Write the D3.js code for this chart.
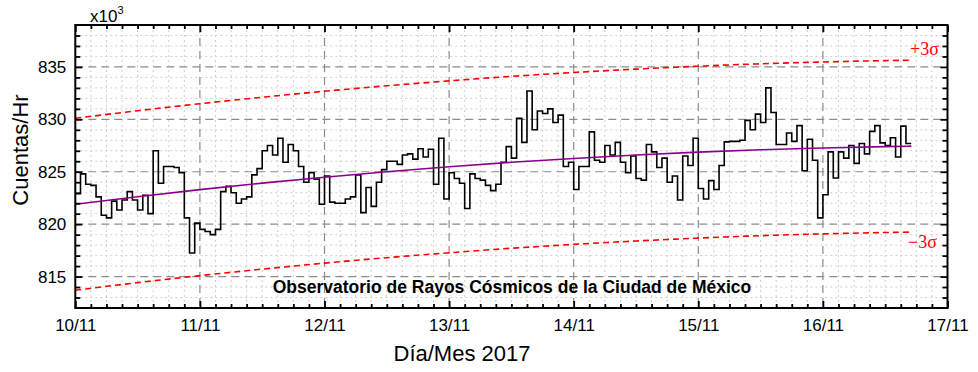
<!DOCTYPE html>
<html><head><meta charset="utf-8">
<script src="https://cdn.jsdelivr.net/npm/d3@7"></script>
<style>
html,body{margin:0;padding:0;background:#fff;}
svg{display:block;font-family:"Liberation Sans",Arial,sans-serif;}
</style></head>
<body>
<svg id="chart" width="978" height="372"></svg>
<script>
// ---- data ----
const dayLabels = ["10/11","11/11","12/11","13/11","14/11","15/11","16/11","17/11"];
const yTickValues = [815, 820, 825, 830, 835];
// hourly counts (x10^3) starting 10/11 00:00
const counts = [
822.9,824.8,823.8,823.7,822.6,820.85,820.6,822.2,821.35,822.3,823.1,822.3,821.35,822.75,821.0,827.0,823.9,825.5,825.5,825.4,824.9,820.6,817.25,820.1,
819.5,819.3,819.0,819.5,823.1,823.6,823.0,822.0,822.4,822.6,824.7,825.3,827.0,827.5,826.6,828.2,825.9,827.6,827.0,825.5,824.0,824.9,824.3,821.9,
824.6,822.1,822.0,822.0,822.4,822.6,824.7,821.1,823.5,821.7,824.0,825.2,826.0,826.0,825.7,826.6,826.7,826.2,827.2,826.4,827.15,823.8,828.2,822.4,
824.9,824.35,823.9,821.5,824.8,824.35,824.2,823.7,823.2,823.8,825.9,827.4,826.3,830.1,827.8,832.7,829.0,830.8,830.55,831.0,829.7,830.4,825.5,825.9,
823.3,825.5,825.5,828.8,826.1,825.9,827.5,826.6,827.8,825.9,824.9,826.5,824.35,824.2,827.6,826.9,825.4,826.3,824.0,824.6,822.3,826.5,825.6,828.2,
823.4,822.4,824.15,823.3,825.6,827.85,827.9,827.9,828.0,829.9,829.0,830.5,829.7,833.0,830.65,827.6,827.6,828.7,827.9,829.4,825.1,828.1,826.1,820.6,
822.8,826.9,824.4,826.9,826.3,827.5,825.8,827.7,826.7,828.85,829.4,827.75,827.5,828.25,826.4,829.35,827.7
];
// fitted trend (purple) and ±3σ limits, sampled every half day
const fitDays   = [0,0.5,1,1.5,2,2.5,3,3.5,4,4.5,5,5.5,6,6.5,6.71];
const fitValues = [821.90,822.62,823.29,823.91,824.48,825.00,825.47,825.90,826.27,826.59,826.87,827.10,827.27,827.40,827.44];
const upperValues = [830.10,830.82,831.49,832.11,832.68,833.20,833.67,834.10,834.47,834.79,835.07,835.30,835.47,835.60,835.64];
const lowerValues = [813.70,814.42,815.09,815.71,816.28,816.80,817.27,817.70,818.07,818.39,818.67,818.90,819.07,819.20,819.24];

// ---- layout ----
const L = 75.3, R = 947.5, T = 25, B = 308;
const svg = d3.select("#chart");
const x = d3.scaleLinear().domain([0, 168]).range([L, R]);
const y = d3.scaleLinear().domain([812, 839]).range([B, T]);

const majorX = d3.range(0, 169, 24);
const minorX = d3.range(0, 169, 3).filter(h => h % 24 !== 0);
const minorY = d3.range(813, 839, 1).filter(v => yTickValues.indexOf(v) < 0);

// grids
const g = svg.append("g");
g.selectAll(".mgx").data(minorX).join("line")
  .attr("x1", d => x(d)).attr("x2", d => x(d)).attr("y1", T).attr("y2", B)
  .attr("stroke", "#cfcfcf").attr("stroke-width", 1).attr("stroke-dasharray", "2,3");
g.selectAll(".mgy").data(minorY).join("line")
  .attr("x1", L).attr("x2", R).attr("y1", d => y(d)).attr("y2", d => y(d))
  .attr("stroke", "#cfcfcf").attr("stroke-width", 1).attr("stroke-dasharray", "2,3");
g.selectAll(".Mgx").data(majorX.slice(1, -1)).join("line")
  .attr("x1", d => x(d)).attr("x2", d => x(d)).attr("y1", T).attr("y2", B)
  .attr("stroke", "#8c8c8c").attr("stroke-width", 1.2).attr("stroke-dasharray", "8,5");
g.selectAll(".Mgy").data(yTickValues).join("line")
  .attr("x1", L).attr("x2", R).attr("y1", d => y(d)).attr("y2", d => y(d))
  .attr("stroke", "#8c8c8c").attr("stroke-width", 1.2).attr("stroke-dasharray", "8,5");

// sigma limits
const lineFit = (vals) => d3.line()
  .x((d, i) => x(fitDays[i] * 24)).y(d => y(d)).curve(d3.curveMonotoneX)(vals);
svg.append("path").attr("d", lineFit(upperValues)).attr("fill", "none")
  .attr("stroke", "#ff0000").attr("stroke-width", 1.6).attr("stroke-dasharray", "6,4");
svg.append("path").attr("d", lineFit(lowerValues)).attr("fill", "none")
  .attr("stroke", "#ff0000").attr("stroke-width", 1.6).attr("stroke-dasharray", "6,4");

// step series
const stepData = counts.map((v, i) => [i, v]);
stepData.push([counts.length, counts[counts.length - 1]]);
svg.append("path")
  .attr("d", d3.line().x(d => x(d[0])).y(d => y(d[1])).curve(d3.curveStepAfter)(stepData))
  .attr("fill", "none").attr("stroke", "#000").attr("stroke-width", 1.6);

// fit line
svg.append("path").attr("d", lineFit(fitValues)).attr("fill", "none")
  .attr("stroke", "#8b008b").attr("stroke-width", 1.6);

// axes with inward ticks
const fs = "17px";
function styleAxis(sel) {
  sel.select(".domain").remove();
  sel.selectAll(".tick line").attr("stroke", "#000").attr("stroke-width", 1.8);
  sel.selectAll(".tick text").attr("font-size", fs).attr("fill", "#000")
     .attr("font-family", '"Liberation Sans",Arial,sans-serif');
}
// minor ticks (all sides)
const axMinB = svg.append("g").attr("transform", `translate(0,${B})`)
  .call(d3.axisBottom(x).tickValues(minorX).tickSize(-4).tickFormat(""));
const axMinT = svg.append("g").attr("transform", `translate(0,${T})`)
  .call(d3.axisTop(x).tickValues(minorX).tickSize(-4).tickFormat(""));
const axMinL = svg.append("g").attr("transform", `translate(${L},0)`)
  .call(d3.axisLeft(y).tickValues(minorY).tickSize(-5).tickFormat(""));
const axMinR = svg.append("g").attr("transform", `translate(${R},0)`)
  .call(d3.axisRight(y).tickValues(minorY).tickSize(-5).tickFormat(""));
[axMinB, axMinT, axMinL, axMinR].forEach(styleAxis);
// major ticks
const axB = svg.append("g").attr("transform", `translate(0,${B})`)
  .call(d3.axisBottom(x).tickValues(majorX).tickSizeInner(-7).tickSizeOuter(0).tickPadding(11)
    .tickFormat((d, i) => dayLabels[i]));
const axT = svg.append("g").attr("transform", `translate(0,${T})`)
  .call(d3.axisTop(x).tickValues(majorX).tickSize(-7).tickFormat(""));
const axL = svg.append("g").attr("transform", `translate(${L},0)`)
  .call(d3.axisLeft(y).tickValues(yTickValues).tickSizeInner(-7).tickSizeOuter(0).tickPadding(9)
    .tickFormat(d3.format("d")));
const axR = svg.append("g").attr("transform", `translate(${R},0)`)
  .call(d3.axisRight(y).tickValues(yTickValues).tickSize(-7).tickFormat(""));
[axB, axT, axL, axR].forEach(styleAxis);

// frame
svg.append("rect").attr("x", L).attr("y", T).attr("width", R - L).attr("height", B - T)
  .attr("fill", "none").attr("stroke", "#000").attr("stroke-width", 2);

// labels
svg.append("text").attr("x", 90).attr("y", 22).attr("font-size", "17px").attr("fill", "#000")
  .text("x10").append("tspan").attr("dy", -8).attr("font-size", "11px").text("3");
svg.append("text").attr("transform", `translate(28,150) rotate(-90)`)
  .attr("text-anchor", "middle").attr("font-size", "22px").attr("fill", "#000").text("Cuentas/Hr");
svg.append("text").attr("x", 462).attr("y", 361).attr("text-anchor", "middle")
  .attr("font-size", "22px").attr("fill", "#000").text("Día/Mes 2017");
svg.append("text").attr("x", 512).attr("y", 293).attr("text-anchor", "middle")
  .attr("font-size", "17.5px").attr("font-weight", "bold").attr("fill", "#000")
  .text("Observatorio de Rayos Cósmicos de la Ciudad de México");
svg.append("text").attr("x", 910).attr("y", 55).attr("font-size", "18px").attr("fill", "#ff0000")
  .attr("font-family", '"Liberation Serif","Times New Roman",serif').text("+3σ");
svg.append("text").attr("x", 908).attr("y", 248).attr("font-size", "18px").attr("fill", "#ff0000")
  .attr("font-family", '"Liberation Serif","Times New Roman",serif').text("−3σ");
</script>
</body></html>
